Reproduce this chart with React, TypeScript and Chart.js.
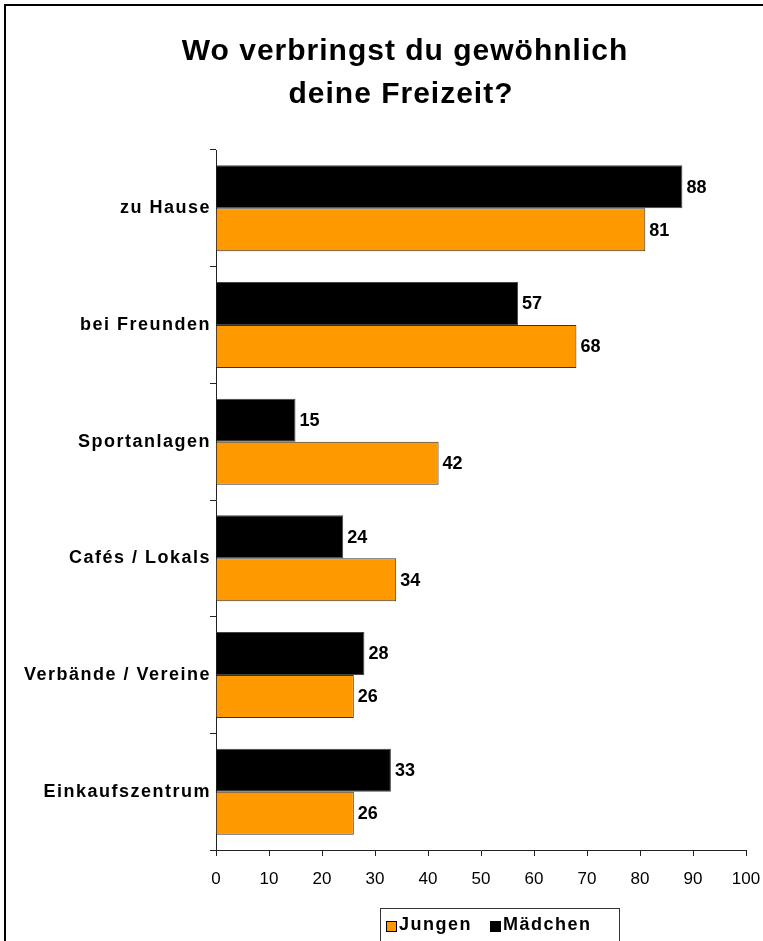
import React, { useEffect, useRef } from 'react';
import { Chart, registerables } from 'chart.js';

Chart.register(...registerables);

const categories = ['zu Hause', 'bei Freunden', 'Sportanlagen', 'Cafés / Lokals', 'Verbände / Vereine', 'Einkaufszentrum'];
const maedchen = [88, 57, 15, 24, 28, 33];
const jungen = [81, 68, 42, 34, 26, 26];
const seriesNames = ['Jungen', 'Mädchen'];
const seriesColors = ['#FF9900', '#000000'];
const titleLines = ['Wo verbringst du gewöhnlich', 'deine Freizeit?'];
const xMin = 0;
const xMax = 100;
const xStep = 10;

const FONT = '"Liberation Sans", Arial, Helvetica, sans-serif';

const spacingPlugin = {
  id: 'spacingPlugin',
  beforeDraw(chart: any) {
    chart.ctx.letterSpacing = '1.5px';
  },
  beforeDatasetsDraw(chart: any) {
    chart.ctx.letterSpacing = '0px';
  },
};

const valueLabelPlugin = {
  id: 'valueLabels',
  afterDatasetsDraw(chart: any) {
    const ctx = chart.ctx;
    ctx.save();
    ctx.letterSpacing = '0px';
    ctx.font = `bold 18px ${FONT}`;
    ctx.fillStyle = '#000';
    ctx.textAlign = 'left';
    ctx.textBaseline = 'middle';
    chart.data.datasets.forEach((ds: any, di: number) => {
      const meta = chart.getDatasetMeta(di);
      meta.data.forEach((el: any, i: number) => {
        ctx.fillText(String(ds.data[i]), el.x + 4, el.y + 1);
      });
    });
    ctx.restore();
  },
};

const decorPlugin = {
  id: 'decor',
  afterDraw(chart: any) {
    const ctx = chart.ctx;
    ctx.save();
    // outer frame
    ctx.strokeStyle = '#000';
    ctx.lineWidth = 2;
    ctx.strokeRect(5, 5, 900, 1100);

    // title
    ctx.fillStyle = '#000';
    ctx.font = `bold 30px ${FONT}`;
    ctx.letterSpacing = '1px';
    ctx.textAlign = 'center';
    ctx.textBaseline = 'alphabetic';
    ctx.fillText(titleLines[0], 405, 60);
    ctx.fillText(titleLines[1], 401, 103);

    // legend
    ctx.lineWidth = 1;
    ctx.strokeStyle = '#333';
    ctx.strokeRect(380.5, 908.5, 239, 33);
    ctx.font = `bold 18px ${FONT}`;
    ctx.letterSpacing = '1.5px';
    ctx.textAlign = 'left';
    let x = 386;
    seriesNames.forEach((name, i) => {
      ctx.fillStyle = seriesColors[i];
      ctx.fillRect(x, 921, 11, 11);
      ctx.strokeStyle = '#000';
      ctx.strokeRect(x + 0.5, 921.5, 10, 10);
      ctx.fillStyle = '#000';
      ctx.fillText(name, x + 13, 930);
      x += 13 + ctx.measureText(name).width + 18;
    });
    ctx.restore();
  },
};

export default function App() {
  const ref = useRef<HTMLCanvasElement | null>(null);
  useEffect(() => {
    if (!ref.current) return;
    const chart = new Chart(ref.current, {
      type: 'bar',
      data: {
        labels: categories,
        datasets: [
          {
            label: seriesNames[1],
            data: maedchen,
            backgroundColor: seriesColors[1],
            borderColor: '#444',
            borderWidth: 1,
          },
          {
            label: seriesNames[0],
            data: jungen,
            backgroundColor: seriesColors[0],
            borderColor: '#333',
            borderWidth: 1,
          },
        ],
      },
      options: {
        indexAxis: 'y',
        responsive: false,
        animation: false,
        devicePixelRatio: 1,
        layout: { padding: { top: 150, left: 0, right: 17, bottom: 0 } },
        datasets: { bar: { categoryPercentage: 0.737, barPercentage: 1 } },
        plugins: {
          legend: { display: false },
          title: { display: false },
          tooltip: { enabled: false },
        },
        scales: {
          y: {
            type: 'category',
            offset: true,
            grid: { display: true, offset: true, drawOnChartArea: false, drawTicks: true, tickLength: 6, color: '#222', lineWidth: 1 },
            border: { display: true, color: '#222', width: 1 },
            ticks: { font: { family: FONT, size: 18, weight: 'bold' }, color: '#000', padding: -1, z: 0 },
            afterFit: (s: any) => { s.width = 216; s.paddingTop = 0; s.paddingBottom = 0; },
          },
          x: {
            type: 'linear',
            min: xMin,
            max: xMax,
            grid: { drawOnChartArea: false, drawTicks: true, tickLength: 6, color: '#222', lineWidth: 1 },
            border: { display: true, color: '#222', width: 1 },
            ticks: { stepSize: xStep, font: { family: FONT, size: 17 }, color: '#000', padding: 13, z: 1 },
            afterFit: (s: any) => { s.height = 91; s.paddingLeft = 0; s.paddingRight = 0; },
          },
        },
      } as any,
      plugins: [spacingPlugin, valueLabelPlugin, decorPlugin],
    });
    return () => chart.destroy();
  }, []);
  return (
    <div style={{ position: 'absolute', left: 0, top: 0, width: 763, height: 941 }}>
      <canvas ref={ref} width={763} height={941} style={{ display: 'block', width: 763, height: 941 }} />
    </div>
  );
}
